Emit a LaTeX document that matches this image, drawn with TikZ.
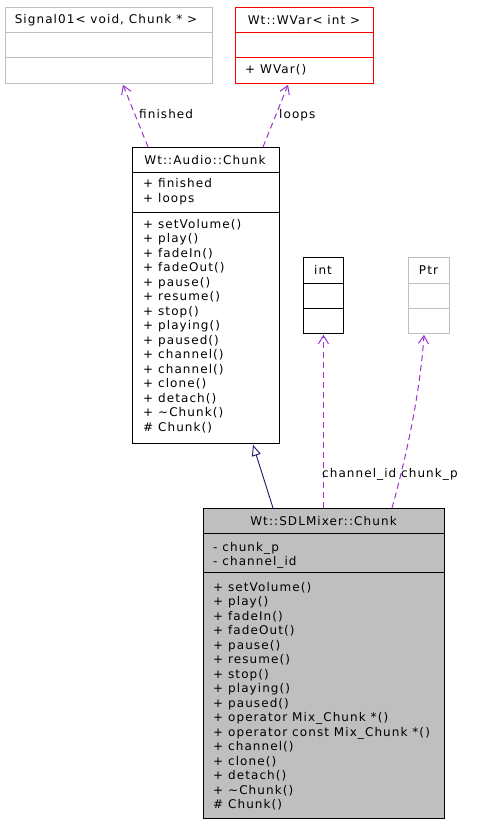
\documentclass[tikz,border=0pt]{standalone}
\usepackage{fontspec}
\setmainfont[LetterSpace=9]{DejaVu Sans}
\usetikzlibrary{arrows.meta,calc}
\definecolor{boxgray}{HTML}{BFBFBF}
\definecolor{orchid}{HTML}{9A32CD}
\definecolor{navyline}{HTML}{191970}
\begin{document}
\begin{tikzpicture}[x=1pt,y=-1pt,
  every node/.style={font=\fontsize{12}{14.5}\selectfont},
  umlbox/.style={draw,line width=0.8pt,anchor=north west,inner sep=0,minimum width=#1},
  txt/.style={inner sep=0,anchor=north west,align=left},
  ttl/.style={inner sep=0},
  lbl/.style={inner sep=0,anchor=west},
  usage/.style={draw=orchid,line width=1pt,dash pattern=on 6pt off 4pt,
    -{Straight Barb[length=8pt,width=10pt]}},
  inherit/.style={draw=navyline,line width=0.9pt,-{Triangle[open,length=11pt,width=9pt]}}
]
\useasboundingbox (0,0) rectangle (492,824);

% Signal01
\node[umlbox=207, minimum height=76, draw=boxgray] (sig) at (5,7) {};
\draw[boxgray,line width=0.8pt] (5,32) -- (212,32) (5,57) -- (212,57);
\node[ttl] (sigt) at (106,20) {Signal01< void, Chunk * >};

% WVar
\node[umlbox=138, minimum height=76, draw=red] (wvar) at (235,7) {};
\draw[red,line width=0.8pt] (235,32) -- (373,32) (235,57) -- (373,57);
\node[ttl] (wvart) at (304,20) {Wt::WVar< int >};
\node[txt] (wvarm) at (245,64.5) {+ WVar()};

% Audio::Chunk
\node[umlbox=147, minimum height=296] (ac) at (132,147) {};
\draw[line width=0.8pt] (132,172) -- (279,172) (132,212) -- (279,212);
\node[ttl] (act) at (205,160) {Wt::Audio::Chunk};
\node[txt] (aca) at (143,178.5) {+ finished\\+ loops};
\node[txt] (acm) at (143,219) {+ setVolume()\\+ play()\\+ fadeIn()\\+ fadeOut()\\+ pause()\\+ resume()\\+ stop()\\+ playing()\\+ paused()\\+ channel()\\+ channel()\\+ clone()\\+ detach()\\+ \char"223C Chunk()\\\# Chunk()};

% int
\node[umlbox=40, minimum height=76] (int) at (303,257) {};
\draw[line width=0.8pt] (303,283) -- (343,283) (303,308) -- (343,308);
\node[ttl] (intt) at (323,270) {int};

% Ptr
\node[umlbox=41, minimum height=76, draw=boxgray] (ptr) at (408,257) {};
\draw[boxgray,line width=0.8pt] (408,283) -- (449,283) (408,308) -- (449,308);
\node[ttl] (ptrt) at (428.5,270) {Ptr};

% SDLMixer::Chunk
\node[umlbox=241, minimum height=310, fill=boxgray] (sc) at (203,508) {};
\draw[line width=0.8pt] (203,533) -- (444,533) (203,572) -- (444,572);
\node[ttl] (sct) at (323.5,521) {Wt::SDLMixer::Chunk};
\node[txt] (sca) at (213,542) {- chunk\_p\\- channel\_id};
\node[txt] (scm) at (213,582) {+ setVolume()\\+ play()\\+ fadeIn()\\+ fadeOut()\\+ pause()\\+ resume()\\+ stop()\\+ playing()\\+ paused()\\+ operator Mix\_Chunk *()\\+ operator const Mix\_Chunk *()\\+ channel()\\+ clone()\\+ detach()\\+ \char"223C Chunk()\\\# Chunk()};

% connectors
\draw[usage] ($(ac.north west)+(16,0)$) -- ($(sig.south west)+(118,1)$);
\node[lbl] (lfin) at (139,114) {finished};
\draw[usage] ($(ac.north west)+(131,0)$) -- ($(wvar.south west)+(53,1)$);
\node[lbl] (lloops) at (279,115) {loops};
\draw[usage] ($(sc.north west)+(120.5,0)$) -- ($(int.south west)+(20.5,1)$);
\node[lbl] (lch) at (322,474) {channel\_id};
\draw[usage] ($(sc.north west)+(189,0)$) .. controls (411,440) and (421,380) .. ($(ptr.south west)+(16,1)$);
\node[lbl] (lcp) at (401,474) {chunk\_p};
\draw[inherit] ($(sc.north west)+(70,0)$) -- ($(ac.south west)+(121,1)$);
\end{tikzpicture}
\end{document}
